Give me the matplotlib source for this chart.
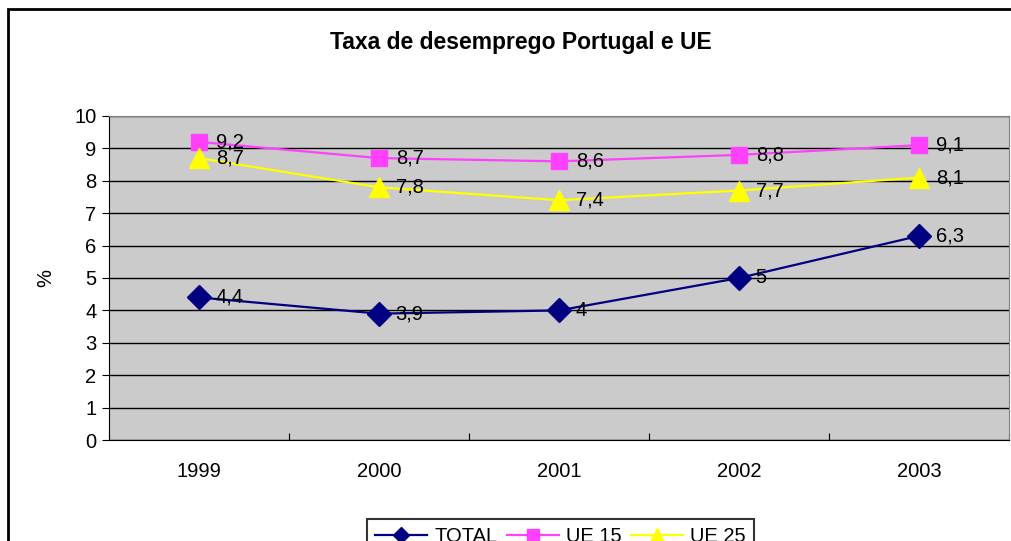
import matplotlib.pyplot as plt
from matplotlib.patches import Rectangle

plt.rcParams["font.family"] = ["Liberation Sans", "DejaVu Sans"]

anos = ["1999", "2000", "2001", "2002", "2003"]
total = [4.4, 3.9, 4.0, 5.0, 6.3]
ue15 = [9.2, 8.7, 8.6, 8.8, 9.1]
ue25 = [8.7, 7.8, 7.4, 7.7, 8.1]
rotulos_total = ["4,4", "3,9", "4", "5", "6,3"]
rotulos_ue15 = ["9,2", "8,7", "8,6", "8,8", "9,1"]
rotulos_ue25 = ["8,7", "7,8", "7,4", "7,7", "8,1"]

W, H = 1011, 541
FS = 14.5
fig = plt.figure(figsize=(W / 100, H / 100), dpi=100)
ax = fig.add_axes([109 / W, 1 - 440 / H, 900 / W, 324 / H])
ax.set_facecolor("#CBCBCB")

# moldura exterior
fig.patches.append(Rectangle((8 / W, -0.1), 1.2, 1 - 9 / H + 0.1, transform=fig.transFigure,
                             fill=False, edgecolor="black", linewidth=2, zorder=0))

x = list(range(len(anos)))
series = [
    (total, rotulos_total, "TOTAL", "#000080", "D", 12),
    (ue15, rotulos_ue15, "UE 15", "#FF40FF", "s", 12),
    (ue25, rotulos_ue25, "UE 25", "#FFFF00", "^", 14),
]
for vals, rots, nome, cor, mk, ms in series:
    ax.plot(x, vals, color=cor, marker=mk, markersize=ms, linewidth=1.6,
            label=nome, zorder=3)
    for xi, v, r in zip(x, vals, rots):
        ax.annotate(r, (xi, v), xytext=(12, 0), textcoords="offset points",
                    ha="left", va="center", fontsize=FS, zorder=4)

ax.set_xlim(-0.5, 4.5)
ax.set_ylim(0, 10)
ax.set_yticks(range(0, 11))
ax.set_xticks([i - 0.5 for i in range(6)])
ax.set_xticklabels([])
ax.set_xticks(x, minor=True)
ax.set_xticklabels(anos, minor=True)
ax.tick_params(axis="x", which="minor", length=0, pad=16, labelsize=FS)
ax.tick_params(axis="x", which="major", length=5, direction="in", color="black")
ax.tick_params(axis="y", length=5, direction="out", labelsize=FS, pad=4)
ax.yaxis.grid(True, color="black", linewidth=1)
ax.set_axisbelow(True)
for s in ["top", "right"]:
    ax.spines[s].set_color("#808080")
ax.spines["left"].set_color("black")
ax.spines["bottom"].set_color("black")
ax.set_ylabel("%", fontsize=FS, labelpad=14)

fig.text(521 / W, 1 - 43 / H, "Taxa de desemprego Portugal e UE", ha="center",
         va="center", fontsize=16.5, fontweight="bold")

leg = fig.legend(loc="upper left", bbox_to_anchor=(367 / W, 1 - 519 / H), ncol=3,
                 frameon=True, fancybox=False, edgecolor="black", fontsize=FS,
                 handlelength=2.6, columnspacing=0.45, borderpad=0.4, handletextpad=0.35,
                 markerscale=0.7, borderaxespad=0)
leg.get_frame().set_linewidth(1.5)

fig.savefig("out.png", dpi=100)
